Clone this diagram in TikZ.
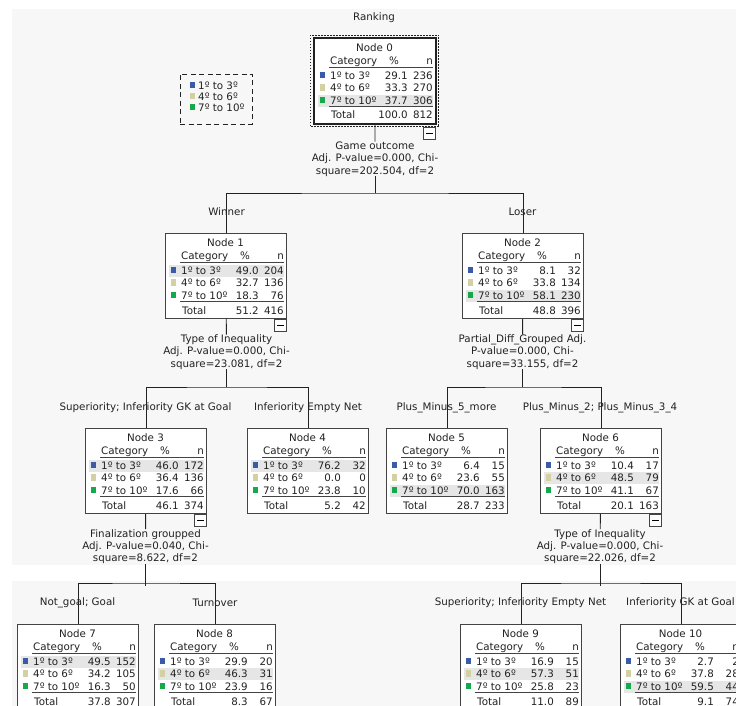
\documentclass[tikz,border=0pt]{standalone}
\usepackage{fontspec}
\setmainfont{DejaVu Sans}
\usetikzlibrary{positioning}

\definecolor{bgcol}{HTML}{F7F7F7}
\definecolor{hlcol}{HTML}{E6E6E6}
\definecolor{ink}{HTML}{222222}
\definecolor{catblue}{HTML}{3A5BA8}
\definecolor{cattan}{HTML}{D3D1A4}
\definecolor{catgreen}{HTML}{14A94B}

\tikzset{
  txt/.style={inner sep=0pt, text=ink, font=\fontsize{10.3}{12.3}\selectfont},
  split/.style={txt, align=center},
  catbox/.style={draw=ink!85, fill=white, line width=0.9pt, minimum width=121pt,
    minimum height=85pt, inner sep=0pt, anchor=north west},
  minusbox/.style={draw=ink!85, fill=white, line width=0.8pt, minimum size=12pt,
    inner sep=0pt, anchor=north east},
  link/.style={draw=ink, line width=0.9pt},
}

% name, x, y, node number, highlighted row, rows pct/n, total pct/n
\newcommand{\catnode}[7]{%
  \node[catbox] (#1) at (#2,#3) {};
  \begin{scope}[shift={(#1.north west)}]
    \pgfmathsetmacro{\hy}{29+12.35*#5}
    \fill[hlcol] (4,{\hy-9.5}) rectangle (119,{\hy+2.5});
    \node[txt,anchor=base] at (60.5,13.7) {Node #4};
    \node[txt,anchor=base west] at (16,26.3) {Category};
    \node[txt,anchor=base] at (80,26.3) {\%};
    \node[txt,anchor=base east] at (119,26.3) {n};
    \draw[ink!85,line width=0.8pt] (15,29.3) -- (119,29.3);
    \foreach \c/\lab [count=\i] in {catblue/1º to 3º,cattan/4º to 6º,catgreen/7º to 10º}{
      \pgfmathsetmacro{\ry}{29+12.35*\i}
      \fill[\c] (5.7,{\ry-7.5}) rectangle (11,{\ry-1});
      \node[txt,anchor=base west] at (16,\ry) {\lab};
    }
    \foreach \p/\m [count=\i] in {#6}{
      \pgfmathsetmacro{\ry}{29+12.35*\i}
      \node[txt,anchor=base east] at (94,\ry) {\p};
      \node[txt,anchor=base east] at (119,\ry) {\m};
    }
    \draw[ink!85,line width=1.1pt] (15,68.7) -- (119,68.7);
    \node[txt,anchor=base west] at (17,81) {Total};
    \foreach \p/\m in {#7}{
      \node[txt,anchor=base east] at (94,81) {\p};
      \node[txt,anchor=base east] at (119,81) {\m};
    }
  \end{scope}
}

\begin{document}
\begin{tikzpicture}[x=1pt,y=-1pt]
  \useasboundingbox (0,0) rectangle (736,706);
  \clip (0,0) rectangle (736,706);
  %background
  \fill[white] (0,0) rectangle (736,706);
  \fill[bgcol] (12,9) rectangle (736,565);
  \fill[bgcol] (12,581) rectangle (736,706);

  \node[txt] (title) at (374,18) {Ranking};

  %legend
  \node[draw=ink, dash pattern=on 5pt off 3.5pt, line width=0.9pt, minimum width=72pt,
    minimum height=50pt, inner sep=0pt] (key) at (216,99) {};
  \foreach \c/\lab [count=\i] in {catblue/1º to 3º,cattan/4º to 6º,catgreen/7º to 10º}{
    \pgfmathsetmacro{\ly}{78.5+11*\i}
    \fill[\c] (189.5,{\ly-7}) rectangle (195,{\ly-1});
    \node[txt,anchor=base west] at (198,\ly) {\lab};
  }

  %nodes
  \catnode{n0}{314}{38}{0}{3}{29.1/236,33.3/270,37.7/306}{100.0/812}
  \catnode{n1}{165}{233}{1}{1}{49.0/204,32.7/136,18.3/76}{51.2/416}
  \catnode{n2}{462}{233}{2}{3}{8.1/32,33.8/134,58.1/230}{48.8/396}
  \catnode{n3}{85}{428}{3}{1}{46.0/172,36.4/136,17.6/66}{46.1/374}
  \catnode{n4}{247}{428}{4}{1}{76.2/32,0.0/0,23.8/10}{5.2/42}
  \catnode{n5}{386}{428}{5}{3}{6.4/15,23.6/55,70.0/163}{28.7/233}
  \catnode{n6}{540}{428}{6}{2}{10.4/17,48.5/79,41.1/67}{20.1/163}
  \catnode{n7}{17}{624}{7}{1}{49.5/152,34.2/105,16.3/50}{37.8/307}
  \catnode{n8}{154}{624}{8}{2}{29.9/20,46.3/31,23.9/16}{8.3/67}
  \catnode{n9}{460}{624}{9}{2}{16.9/15,57.3/51,25.8/23}{11.0/89}
  \catnode{n10}{620}{624}{10}{3}{2.7/2,37.8/28,59.5/44}{9.1/74}

  %root frame
  \draw[ink, line width=2.6pt] (n0.north west) rectangle (n0.south east);
  \draw[ink, dash pattern=on 1.5pt off 1.5pt, line width=0.9pt]
    ([shift={(-4pt,3pt)}]n0.north west) rectangle ([shift={(3pt,-3pt)}]n0.south east);

  %collapse boxes
  \node[minusbox] (m0) at ([yshift=-3pt]n0.south east) {\rule{7pt}{0.8pt}};
  \foreach \n in {n1,n2,n3,n6}
    \node[minusbox] (m\n) at (\n.south east) {\rule{7pt}{0.8pt}};

  %split labels
  \node[split] (s0) at (375,159) {Game outcome\\Adj. P-value=0.000, Chi-\\square=202.504, df=2};
  \node[split] (s1) at (226.5,352) {Type of Inequality\\Adj. P-value=0.000, Chi-\\square=23.081, df=2};
  \node[split] (s2) at (522.5,352) {Partial\_Diff\_Grouped Adj.\\P-value=0.000, Chi-\\square=33.155, df=2};
  \node[split] (s3) at (145.5,546.5) {Finalization groupped\\Adj. P-value=0.040, Chi-\\square=8.622, df=2};
  \node[split] (s6) at (600,546.5) {Type of Inequality\\Adj. P-value=0.000, Chi-\\square=22.026, df=2};

  %junctions
  \coordinate (j0) at (375,193);
  \coordinate (j1) at (226.5,387);
  \coordinate (j2) at (522.5,387);
  \coordinate (j3) at (145.5,583);
  \coordinate (j6) at (600,583);
  \coordinate (t3) at (145.5,586);
  \coordinate (t6) at (600,586);

  %links
  \draw[link] (n0) -- (s0);
  \draw[link] (s0) -- (j0);
  \draw[link] (n1) |- (j0) -| (n2);
  \draw[link] (n1) -- (s1);
  \draw[link] (s1) -- (j1);
  \draw[link] (n3) |- (j1) -| (n4);
  \draw[link] (n2) -- (s2);
  \draw[link] (s2) -- (j2);
  \draw[link] (n5) |- (j2) -| (n6);
  \draw[link] (n3) -- (s3);
  \draw[link] (s3) -- (t3);
  \draw[link] (n7) |- (j3) -| (n8);
  \draw[link] (n6) -- (s6);
  \draw[link] (s6) -- (t6);
  \draw[link] (n9) |- (j6) -| (n10);

  %branch labels
  \node[txt] (e1) at (226.5,212) {Winner};
  \node[txt] (e2) at (522.5,212) {Loser};
  \node[txt] (e3) at (145.5,408) {Superiority; Inferiority GK at Goal};
  \node[txt] (e4) at (308,408) {Inferiority Empty Net};
  \node[txt] (e5) at (446.5,408) {Plus\_Minus\_5\_more};
  \node[txt] (e6) at (600,408) {Plus\_Minus\_2; Plus\_Minus\_3\_4};
  \node[txt] (e7) at (77.5,603) {Not\_goal; Goal};
  \node[txt] (e8) at (215,603) {Turnover};
  \node[txt] (e9) at (520.5,603) {Superiority; Inferiority Empty Net};
  \node[txt] (e10) at (680.5,603) {Inferiority GK at Goal};
\end{tikzpicture}
\end{document}
